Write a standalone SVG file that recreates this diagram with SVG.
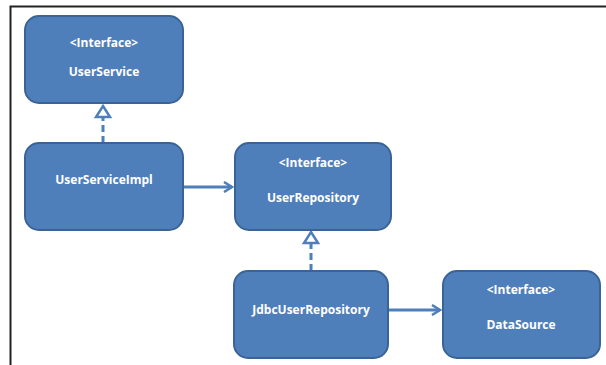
<svg xmlns="http://www.w3.org/2000/svg" width="606" height="365" viewBox="0 0 606 365">
<style>
.node rect{fill:#4f7fbb;stroke:#3a6496;stroke-width:2}
.node text{fill:#ffffff;font-family:"Open Sans","Liberation Sans",sans-serif;font-weight:bold;font-size:12px;text-anchor:middle}
.conn{stroke:#4f7fbb;stroke-width:3;fill:none}
.dash{stroke-dasharray:7,4}
</style>
<defs>
<marker id="arr" viewBox="0 0 12 12" refX="10" refY="6" markerWidth="12" markerHeight="12" markerUnits="userSpaceOnUse" orient="auto">
<path d="M2,1 L10,6 L2,11" fill="none" stroke="#4f7fbb" stroke-width="2.5"/>
</marker>
</defs>
<rect width="606" height="365" fill="#ffffff"/>
<path d="M10.5,365 L10.5,6.5 L606,6.5" fill="none" stroke="#222" stroke-width="2"/>
<g id="connectors">
<line class="conn dash" x1="103" y1="143" x2="103" y2="118"/>
<path d="M103,106 L110,117 L96,117 Z" fill="#ffffff" stroke="#4f7fbb" stroke-width="2.5"/>
<line class="conn" x1="184" y1="187" x2="232" y2="187" marker-end="url(#arr)"/>
<line class="conn dash" x1="311" y1="271" x2="311" y2="244"/>
<path d="M311,232 L318,243 L304,243 Z" fill="#ffffff" stroke="#4f7fbb" stroke-width="2.5"/>
<line class="conn" x1="389" y1="310" x2="440" y2="310" marker-end="url(#arr)"/>
</g>
<g id="UserService" class="node">
<rect x="25" y="16" width="158" height="87" rx="14"/>
<text x="104" y="47">&lt;Interface&gt;</text>
<text x="104" y="76">UserService</text>
</g>
<g id="UserServiceImpl" class="node">
<rect x="25" y="143" width="158" height="87" rx="14"/>
<text x="104" y="184">UserServiceImpl</text>
</g>
<g id="UserRepository" class="node">
<rect x="235" y="143" width="156" height="87" rx="14"/>
<text x="313" y="167">&lt;Interface&gt;</text>
<text x="313" y="202">UserRepository</text>
</g>
<g id="JdbcUserRepository" class="node">
<rect x="234" y="271" width="154" height="87" rx="14"/>
<text x="311" y="314">JdbcUserRepository</text>
</g>
<g id="DataSource" class="node">
<rect x="443" y="271" width="157" height="87" rx="14"/>
<text x="521" y="294">&lt;Interface&gt;</text>
<text x="521" y="329">DataSource</text>
</g>
</svg>
